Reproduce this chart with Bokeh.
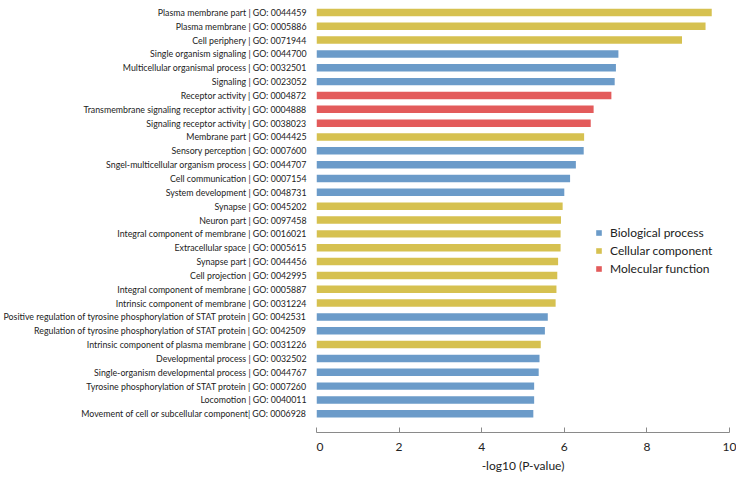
import numpy as np
from bokeh.plotting import figure
from bokeh.layouts import row
from bokeh.models import ColumnDataSource, Range1d, FixedTicker, CDSView, GroupFilter, Legend
from bokeh.core.properties import value
from bokeh.embed import file_html
from bokeh.resources import INLINE

terms = [
    "Plasma membrane part | GO: 0044459",
    "Plasma membrane | GO: 0005886",
    "Cell periphery | GO: 0071944",
    "Single organism signaling | GO: 0044700",
    "Multicellular organismal process | GO: 0032501",
    "Signaling | GO: 0023052",
    "Receptor activity | GO: 0004872",
    "Transmembrane signaling receptor activity | GO: 0004888",
    "Signaling receptor activity | GO: 0038023",
    "Membrane part | GO: 0044425",
    "Sensory perception | GO: 0007600",
    "Sngel-multicellular organism process | GO: 0044707",
    "Cell communication | GO: 0007154",
    "System development | GO: 0048731",
    "Synapse | GO: 0045202",
    "Neuron part | GO: 0097458",
    "Integral component of membrane | GO: 0016021",
    "Extracellular space | GO: 0005615",
    "Synapse part | GO: 0044456",
    "Cell projection | GO: 0042995",
    "Integral component of membrane | GO: 0005887",
    "Intrinsic component of membrane | GO: 0031224",
    "Positive regulation of tyrosine phosphorylation of STAT protein | GO: 0042531",
    "Regulation of tyrosine phosphorylation of STAT protein | GO: 0042509",
    "Intrinsic component of plasma membrane | GO: 0031226",
    "Developmental process | GO: 0032502",
    "Single-organism developmental process | GO: 0044767",
    "Tyrosine phosphorylation of STAT protein | GO: 0007260",
    "Locomotion | GO: 0040011",
    "Movement of cell or subcellular component| GO: 0006928",
]
values = [9.57, 9.42, 8.85, 7.31, 7.25, 7.22, 7.14, 6.71, 6.64, 6.48,
          6.47, 6.28, 6.14, 6.00, 5.96, 5.92, 5.91, 5.91, 5.85, 5.83,
          5.81, 5.79, 5.60, 5.53, 5.43, 5.40, 5.38, 5.27, 5.27, 5.25]
BP, CC, MF = "Biological process", "Cellular component", "Molecular function"
categories = [CC, CC, CC, BP, BP, BP, MF, MF, MF, CC,
              BP, BP, BP, BP, CC, CC, CC, CC, CC, CC,
              CC, CC, BP, BP, CC, BP, BP, BP, BP, BP]
legend_order = [BP, CC, MF]
colors = {BP: "#6b9bc9", CC: "#d6c150", MF: "#e35b5b"}
x_ticks = [0, 2, 4, 6, 8, 10]

n = len(terms)
pos = list(range(n, 0, -1))
source = ColumnDataSource(dict(term=terms, value=values, cat=categories, pos=pos,
                               one=[1] * n))
y_range = Range1d(-0.35, n + 0.5)

# left panel: category labels
lp = figure(width=316, height=476, output_backend="svg", toolbar_location=None,
            x_range=Range1d(0, 1), y_range=y_range,
            x_axis_location=None, y_axis_location=None,
            min_border_left=0, min_border_right=0, min_border_top=5, min_border_bottom=44)
lp.outline_line_color = None
lp.grid.visible = False
lp.text(x="one", y="pos", text="term", source=source, x_offset=-10,
        text_align="right", text_baseline="middle",
        text_font=value("Lato"), text_font_size="8.8px", text_color="#222222")

# main panel: bars
p = figure(width=420, height=476, output_backend="svg", toolbar_location=None,
           x_range=Range1d(0, 10), y_range=y_range,
           min_border_left=0, min_border_right=7, min_border_top=5, min_border_bottom=44)
p.outline_line_color = None
p.grid.visible = False
p.yaxis.visible = False

items = []
for c in legend_order:
    view = CDSView(filter=GroupFilter(column_name="cat", group=c))
    r = p.hbar(y="pos", right="value", left=0, height=0.54, source=source, view=view,
               fill_color=colors[c], line_color=None)
    items.append((c, [r]))

legend = Legend(items=items, location=(279, 156), orientation="vertical")
legend.border_line_color = None
legend.background_fill_alpha = 0
legend.padding = 0
legend.margin = 0
legend.spacing = 3
legend.glyph_width = 7
legend.glyph_height = 7
legend.label_height = 12
legend.label_standoff = 8
legend.label_text_font = "Lato"
legend.label_text_font_size = "12px"
legend.label_text_color = "#222222"
p.add_layout(legend, "center")

p.xaxis.ticker = FixedTicker(ticks=x_ticks)
p.xaxis.axis_line_color = "#8a8a8a"
p.xaxis.major_tick_line_color = "#8a8a8a"
p.xaxis.major_tick_in = 5
p.xaxis.major_tick_out = 0
p.xaxis.minor_tick_line_color = None
p.xaxis.major_label_standoff = 10
p.xaxis.major_label_text_font = "Lato"
p.xaxis.major_label_text_font_size = "12px"
p.xaxis.major_label_text_color = "#222222"
p.xaxis.axis_label = "-log10 (P-value)"
p.xaxis.axis_label_standoff = 4
p.xaxis.axis_label_text_font = "Lato"
p.xaxis.axis_label_text_font_style = "normal"
p.xaxis.axis_label_text_font_size = "12px"
p.xaxis.axis_label_text_color = "#222222"

layout = row(lp, p, spacing=0)
open("out.html", "w").write(file_html(layout, INLINE))
